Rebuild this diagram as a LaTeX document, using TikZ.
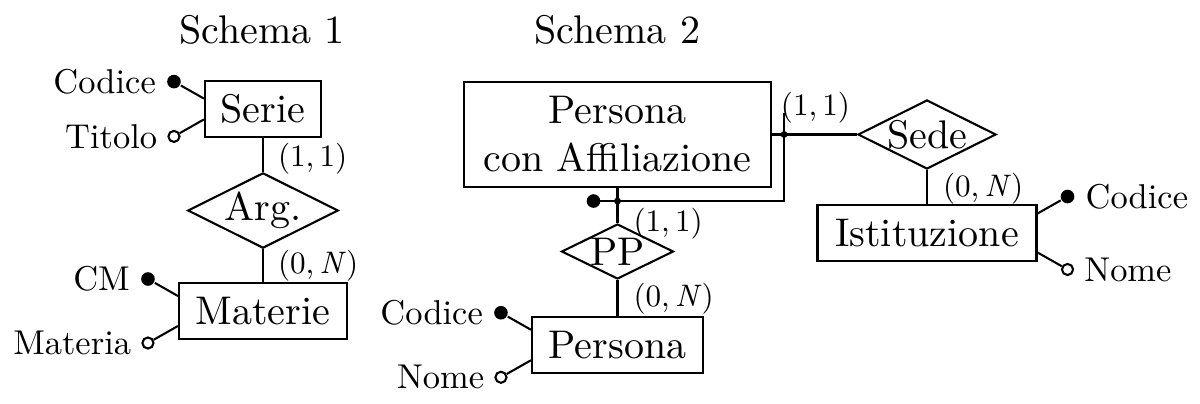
\documentclass[tikz,border=0pt]{standalone}
\usepackage{fontspec}
\setmainfont{lmroman10-regular}[Extension=.otf,ItalicFont=lmroman10-italic]
\usetikzlibrary{shapes.geometric,positioning,calc}
\begin{document}
\begin{tikzpicture}[x=0.36pt,y=-0.36pt,line width=0.75pt,
  ent/.style={draw,rectangle,inner sep=0pt,align=center,font=\fontsize{14.4}{17.28}\selectfont},
  rel/.style={draw,diamond,shape aspect=2,inner sep=0pt,font=\fontsize{14.4}{17.28}\selectfont},
  keydot/.style={circle,fill,inner sep=0pt,minimum size=4.9pt},
  attdot/.style={circle,draw,fill=white,inner sep=0pt,minimum size=4pt},
  jdot/.style={circle,fill,inner sep=0pt,minimum size=2.5pt},
  attr/.style={font=\fontsize{12.4}{14.9}\selectfont},
  card/.style={inner sep=0pt,anchor=west,font=\fontsize{11.2}{13.4}\selectfont},
  ttl/.style={anchor=base,inner sep=0pt,font=\fontsize{14.4}{17.28}\selectfont}]
\useasboundingbox (0,0) rectangle (1200,403);

% titles
\node[ttl] (t1) at (262,43) {Schema 1};
\node[ttl] (t2) at (617.5,43) {Schema 2};

% ---------- Schema 1 ----------
\node[ent,minimum width=41.76pt,minimum height=20.16pt] (serie) at (263,109) {Serie};
\node[rel,minimum width=52.56pt,minimum height=25.56pt] (arg) at (263,210.5) {Arg.};
\node[ent,minimum width=60.48pt,minimum height=20.16pt] (materie) at (263,311) {Materie};
\draw (serie.south) -- (arg.north);
\draw (arg.south) -- (materie.north);
\node[card] (c1) at ($(serie.south)+(14,20.5)$) {(1,\,1)};
\node[card] (c2) at ($(materie.north)+(14,-16.5)$) {(0,\,\textit{N}\/)};

\node[keydot] (sd1) at ($(serie.170)+(-30,-17)$) {};
\node[attdot] (sd2) at ($(serie.190)+(-30,17)$) {};
\draw (serie.170) -- (sd1);
\draw (serie.190) -- (sd2);
\node[attr,left=0pt of sd1] (sa1) {Codice};
\node[attr,left=0pt of sd2] (sa2) {Titolo};

\node[keydot] (md1) at ($(materie.170)+(-30,-17)$) {};
\node[attdot] (md2) at ($(materie.190)+(-30,17)$) {};
\draw (materie.170) -- (md1);
\draw (materie.190) -- (md2);
\node[attr,left=0pt of md1] (ma1) {CM};
\node[attr,left=0pt of md2] (ma2) {Materia};

% ---------- Schema 2 ----------
\node[ent,minimum width=110.52pt,minimum height=37.8pt] (pca) at (617.5,134.5) {Persona\\con Affiliazione};
\node[rel,minimum width=40.32pt,minimum height=19.8pt] (pp) at (617.5,251.5) {PP};
\node[ent,minimum width=61.56pt,minimum height=20.16pt] (persona) at (617.5,345) {Persona};
\node[rel,minimum width=48.24pt,minimum height=23.76pt] (sede) at (927,134.5) {Sede};
\node[ent,minimum width=78.84pt,minimum height=20.16pt] (ist) at (927,233) {Istituzione};

\draw (pca.south) -- (pp.north);
\draw (pp.south) -- (persona.north);
\draw (pca.east) -- (sede.west);
\draw (sede.south) -- (ist.north);

\node[card] (c3) at ($(pp.north)+(15,0.5)$) {(1,\,1)};
\node[card] (c4) at ($(persona.north)+(15,-17)$) {(0,\,\textit{N}\/)};
\node[card] (c5) at ($(sede.west)+(-77,-27)$) {(1,\,1)};
\node[card] (c6) at ($(ist.north)+(15,-15.5)$) {(0,\,\textit{N}\/)};

% composite identifier
\coordinate (j1) at ($(pca.south)+(0,13)$);
\coordinate (j2) at ($(pca.east)+(12,0)$);
\coordinate (jt) at ($(j2)+(0,-22)$);
\node[keydot] (bd) at ($(j1)+(-24,0)$) {};
\draw[line join=miter] (bd.center) -- (j1) -- (j2 |- j1) -- (jt);
\node[jdot] (jd1) at (j1) {};
\node[jdot] (jd2) at (j2) {};

% attributes of Persona
\node[keydot] (pd1) at ($(persona.170)+(-30,-17)$) {};
\node[attdot] (pd2) at ($(persona.190)+(-30,17)$) {};
\draw (persona.170) -- (pd1);
\draw (persona.190) -- (pd2);
\node[attr,left=0pt of pd1] (pa1) {Codice};
\node[attr,left=0pt of pd2] (pa2) {Nome};

% attributes of Istituzione
\node[keydot] (id1) at ($(ist.10)+(30,-17)$) {};
\node[attdot] (id2) at ($(ist.350)+(30,17)$) {};
\draw (ist.10) -- (id1);
\draw (ist.350) -- (id2);
\node[attr,right=0pt of id1] (ia1) {Codice};
\node[attr,right=0pt of id2] (ia2) {Nome};
\end{tikzpicture}
\end{document}
